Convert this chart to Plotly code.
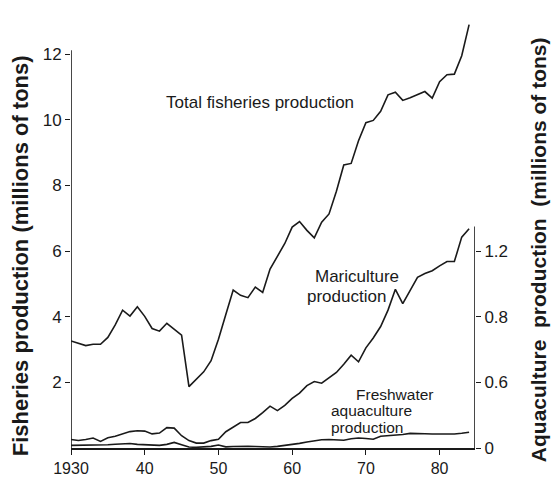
import plotly.graph_objects as go

years = list(range(1930, 1985))

total_fisheries = [
    3.26, 3.20, 3.12, 3.16, 3.16, 3.37, 3.75, 4.20, 4.02, 4.30,
    4.01, 3.64, 3.56, 3.80, 3.62, 3.44, 1.87, 2.10, 2.32, 2.66,
    3.31, 4.07, 4.81, 4.65, 4.58, 4.90, 4.74, 5.45, 5.83, 6.23,
    6.73, 6.90, 6.63, 6.40, 6.88, 7.13, 7.82, 8.62, 8.67, 9.36,
    9.91, 9.98, 10.26, 10.76, 10.84, 10.59, 10.67, 10.76, 10.86, 10.66,
    11.16, 11.37, 11.39, 11.95, 12.90,
]

mariculture = [
    0.052, 0.046, 0.052, 0.061, 0.040, 0.062, 0.072, 0.085, 0.100, 0.105,
    0.103, 0.086, 0.091, 0.124, 0.121, 0.075, 0.045, 0.030, 0.030, 0.045,
    0.053, 0.099, 0.128, 0.155, 0.155, 0.180, 0.215, 0.255, 0.228, 0.260,
    0.302, 0.335, 0.380, 0.405, 0.395, 0.425, 0.460, 0.510, 0.565, 0.525,
    0.610, 0.670, 0.740, 0.840, 0.967, 0.880, 0.960, 1.040, 1.063, 1.080,
    1.110, 1.136, 1.136, 1.285, 1.336,
]

freshwater = [
    0.016, 0.016, 0.016, 0.017, 0.018, 0.020, 0.023, 0.026, 0.027, 0.022,
    0.019, 0.016, 0.016, 0.022, 0.034, 0.020, 0.006, 0.004, 0.005, 0.010,
    0.018, 0.007, 0.009, 0.012, 0.011, 0.009, 0.008, 0.006, 0.010, 0.015,
    0.020, 0.028, 0.037, 0.044, 0.050, 0.052, 0.049, 0.047, 0.056, 0.061,
    0.058, 0.053, 0.072, 0.074, 0.077, 0.082, 0.089, 0.090, 0.087, 0.085,
    0.085, 0.085, 0.085, 0.090, 0.096,
]

x_tick_vals = [1930, 1940, 1950, 1960, 1970, 1980]
x_tick_text = ["1930", "40", "50", "60", "70", "80"]
left_tick_vals = [2, 4, 6, 8, 10, 12]
left_tick_text = ["2", "4", "6", "8", "10", "12"]
right_tick_vals = [0, 0.4, 0.8, 1.2]
right_tick_text = ["0", "0.6", "0.8", "1.2"]

W, H = 554, 489
# plot frame in window pixels: x 71..475, y 18..457
ML, MR, MT, MB = 71, W - 475, 18, H - 457
PW, PH = W - ML - MR, H - MT - MB
Y_TOP = 13.1
X_RANGE = [1930, 1984.8]

FONT = "Liberation Sans, Arial, sans-serif"
INK = "#1a1a1a"

def px(x):
    return (x - ML) / PW

def py(y):
    return (H - MB - y) / PH

fig = go.Figure()
line = dict(color=INK, width=1.6)
fig.add_trace(go.Scatter(x=years, y=total_fisheries, mode="lines", line=line,
                         name="Total fisheries production", yaxis="y"))
fig.add_trace(go.Scatter(x=years, y=mariculture, mode="lines", line=line,
                         name="Mariculture production", yaxis="y2"))
fig.add_trace(go.Scatter(x=years, y=freshwater, mode="lines", line=line,
                         name="Freshwater aquaculture production", yaxis="y2"))

fig.update_layout(
    width=W, height=H,
    margin=dict(l=ML, r=MR, t=MT, b=MB, pad=0),
    paper_bgcolor="white", plot_bgcolor="white",
    showlegend=False,
    font=dict(family=FONT, color=INK),
    xaxis=dict(
        range=X_RANGE, tickvals=x_tick_vals, ticktext=x_tick_text,
        ticks="outside", ticklen=5, tickwidth=1.2, tickcolor=INK,
        showline=True, linecolor=INK, linewidth=1.6,
        showgrid=False, zeroline=False,
        tickfont=dict(size=16, family=FONT, color=INK),
    ),
    yaxis=dict(
        range=[0, Y_TOP], tickvals=left_tick_vals, ticktext=left_tick_text,
        ticks="outside", ticklen=5, tickwidth=1.2, tickcolor=INK,
        showline=False, showgrid=False, zeroline=False,
        tickfont=dict(size=17, family=FONT, color=INK),
    ),
    yaxis2=dict(
        range=[0, Y_TOP / 5], overlaying="y", side="right",
        tickvals=right_tick_vals, ticktext=right_tick_text,
        ticks="outside", ticklen=5, tickwidth=1.2, tickcolor=INK,
        showline=False, showgrid=False, zeroline=False,
        tickfont=dict(size=17, family=FONT, color=INK),
    ),
)

# partial axis lines as in the reference
fig.add_shape(type="line", xref="x", yref="y", x0=X_RANGE[0], x1=X_RANGE[0],
              y0=0, y1=12.12, line=dict(color=INK, width=1.6))
fig.add_shape(type="line", xref="x", yref="y2", x0=X_RANGE[1], x1=X_RANGE[1],
              y0=0, y1=1.35, line=dict(color=INK, width=1.6))

def note(text, x, y, size=14, xanchor="center"):
    fig.add_annotation(text=text, x=px(x), y=py(y), xref="paper", yref="paper",
                       showarrow=False, xanchor=xanchor, yanchor="middle",
                       font=dict(size=size, family=FONT, color=INK))

note("Total fisheries production", 260, 104, size=17)
note("Mariculture", 357, 282, size=17)
note("production", 346, 302, size=17)
note("Freshwater", 395, 402, size=15.5)
note("aquaculture", 371, 419, size=15.5)
note("production", 367, 436, size=15.5)

fig.add_annotation(text="<b>Fisheries production (millions of tons)</b>",
                   x=px(20), y=py(468), xref="paper", yref="paper",
                   textangle=-90, showarrow=False, xanchor="center", yanchor="bottom",
                   font=dict(size=22, family=FONT, color=INK))
fig.add_annotation(text="<b>Aquaculture  production  (millions of tons)</b>",
                   x=px(538), y=py(474), xref="paper", yref="paper",
                   textangle=-90, showarrow=False, xanchor="center", yanchor="bottom",
                   font=dict(size=21, family=FONT, color=INK))

# remove the default 8px page margin so the figure sits exactly in the window
fig.write_html("out.html", config={"displayModeBar": False},
               post_script="document.body.style.margin='0px';")
